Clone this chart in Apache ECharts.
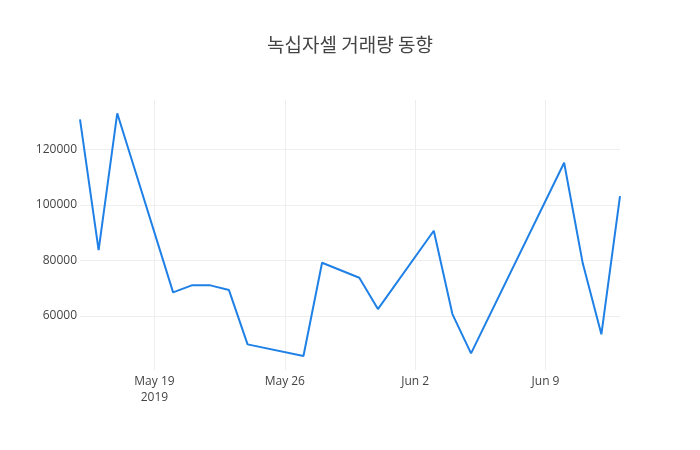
<!DOCTYPE html>
<html>
<head>
    <meta charset="utf-8">
    <style>
        html, body { margin: 0; padding: 0; background: #fff; }
        #chart { width: 700px; height: 450px; }
    </style>
</head>
<body>
<div id="chart"></div>
<script src="https://cdn.jsdelivr.net/npm/echarts@6/dist/echarts.min.js"></script>
<script>
// 거래일
var tradeDates = ['2019-05-15', '2019-05-16', '2019-05-17', '2019-05-20', '2019-05-21',
    '2019-05-22', '2019-05-23', '2019-05-24', '2019-05-27', '2019-05-28',
    '2019-05-30', '2019-05-31', '2019-06-03', '2019-06-04', '2019-06-05',
    '2019-06-10', '2019-06-11', '2019-06-12', '2019-06-13'];
// 거래량
var volumes = [130750, 83740, 132910, 68520, 71040,
    71040, 69350, 49820, 45610, 79170,
    73780, 62520, 90680, 60720, 46580,
    115140, 78960, 53420, 103160];
// x축 눈금
var xTickDates = ['2019-05-19', '2019-05-26', '2019-06-02', '2019-06-09'];

var monthNames = ['Jan', 'Feb', 'Mar', 'Apr', 'May', 'Jun', 'Jul', 'Aug', 'Sep', 'Oct', 'Nov', 'Dec'];
function toTime(d) {
    return new Date(d + 'T00:00:00').getTime();
}
var xTickValues = xTickDates.map(toTime);

var seriesData = [];
for (var i = 0; i < tradeDates.length; i++) {
    seriesData.push([toTime(tradeDates[i]), volumes[i]]);
}

var chart = echarts.init(document.getElementById('chart'));
var option = {
    animation: false,
    title: {
        text: '녹십자셀 거래량 동향',
        left: 'center',
        top: 30,
        textStyle: {
            color: '#444',
            fontSize: 19,
            fontWeight: 'normal',
            fontFamily: '"Noto Sans CJK KR", "Open Sans", sans-serif'
        }
    },
    grid: {
        left: 80,
        right: 80,
        top: 100,
        bottom: 80,
        containLabel: false
    },
    xAxis: {
        type: 'value',
        min: seriesData[0][0],
        max: seriesData[seriesData.length - 1][0],
        axisLine: { show: false },
        axisTick: { show: false, customValues: xTickValues },
        splitLine: {
            show: true,
            lineStyle: { color: '#eee', width: 1 }
        },
        axisLabel: {
            customValues: xTickValues,
            color: '#444',
            fontSize: 12,
            lineHeight: 16,
            margin: 4,
            fontFamily: '"Open Sans", sans-serif',
            formatter: function (value) {
                var d = new Date(value);
                var txt = monthNames[d.getMonth()] + ' ' + d.getDate();
                if (value === xTickValues[0]) {
                    txt += '\n' + d.getFullYear();
                }
                return txt;
            }
        }
    },
    yAxis: {
        type: 'value',
        min: 40600,
        max: 137700,
        splitNumber: 5,
        axisLine: { show: false },
        axisTick: { show: false },
        splitLine: {
            show: true,
            showMinLine: false,
            showMaxLine: false,
            lineStyle: { color: '#eee', width: 1 }
        },
        axisLabel: {
            showMinLabel: false,
            showMaxLabel: false,
            color: '#444',
            fontSize: 12,
            margin: 3,
            fontFamily: '"Open Sans", sans-serif',
            formatter: function (value) {
                return String(value);
            }
        }
    },
    series: [{
        name: '거래량',
        type: 'line',
        showSymbol: false,
        lineStyle: { color: '#1f80e6', width: 2 },
        itemStyle: { color: '#1f80e6' },
        data: seriesData
    }]
};
chart.setOption(option);
</script>
</body>
</html>
